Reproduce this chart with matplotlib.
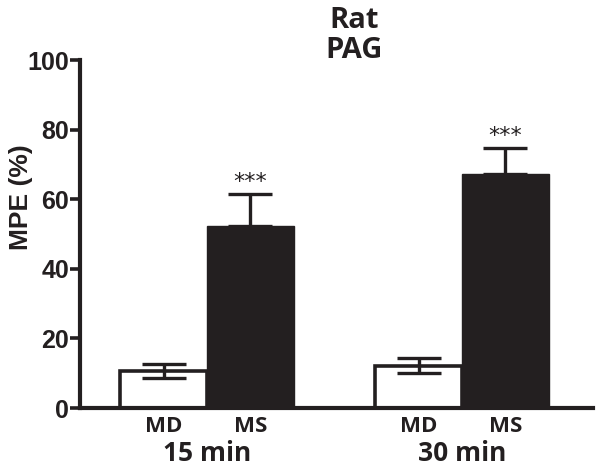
import matplotlib
matplotlib.use('Agg')
import numpy as np
from matplotlib import pyplot as plt
from matplotlib import transforms

# data
groups = ['15 min', '30 min']
md_mean = [10.6, 12.2]
md_sem = [2.0, 2.2]
ms_mean = [52.3, 67.2]
ms_sem = [9.2, 7.5]
stars = ['***', '***']
yticks = [0, 20, 40, 60, 80, 100]

ink = '#231f20'
plt.rcParams['font.family'] = ['Open Sans', 'DejaVu Sans']

fig = plt.figure(figsize=(6, 4.7), dpi=100)
ax = fig.add_axes([80 / 600, 1 - 408 / 470, 513 / 600, 348 / 470])

x = np.arange(len(groups))
w = 0.34

# white MD bars, black MS bars
ax.bar(x - w / 2, md_mean, w, color='white', edgecolor=ink, linewidth=2.6, zorder=2)
ax.bar(x + w / 2, ms_mean, w, color=ink, edgecolor=ink, linewidth=1, zorder=2)

ax.errorbar(x - w / 2, md_mean, yerr=md_sem, fmt='none', ecolor=ink,
            elinewidth=2.4, capsize=16, capthick=2.4, zorder=3)
ax.errorbar(x + w / 2, ms_mean, yerr=[np.zeros(len(ms_sem)), ms_sem], fmt='none',
            ecolor=ink, elinewidth=2.4, capsize=16, capthick=2.4, zorder=1)

for xi, m, s, st in zip(x, ms_mean, ms_sem, stars):
    ax.text(xi + w / 2, m + s + 0.6, st, ha='center', va='bottom',
            fontsize=16, family='DejaVu Sans', color=ink)

ax.set_xlim(-0.498, 1.514)
ax.set_ylim(0, 100)
ax.set_yticks(yticks)
ax.set_yticklabels([str(t) for t in yticks], family='Liberation Sans',
                   fontweight='bold', fontsize=18, color=ink)
ax.tick_params(axis='y', length=7, width=2.6, color=ink, pad=1)

centers = np.concatenate([x - w / 2, x + w / 2])
labels = ['MD'] * len(groups) + ['MS'] * len(groups)
ax.set_xticks(centers)
ax.set_xticklabels(labels, fontweight='bold', fontsize=16, color=ink)
ax.tick_params(axis='x', length=0, pad=6)

trans = transforms.blended_transform_factory(ax.transData, ax.transAxes)
for xi, g in zip(x, groups):
    ax.text(xi, -0.13, g, transform=trans, ha='center', va='center',
            fontweight='bold', fontsize=19, color=ink)

for side in ['top', 'right']:
    ax.spines[side].set_visible(False)
ax.spines['left'].set_linewidth(3)
ax.spines['bottom'].set_linewidth(3)
ax.spines['left'].set_color(ink)
ax.spines['bottom'].set_color(ink)
ax.spines['left'].set_capstyle('projecting')

ax.set_ylabel('MPE (%)', family='Liberation Sans', fontweight='bold',
              fontsize=19, color=ink)
ax.yaxis.set_label_coords(-0.092, 0.606)

fig.text(354 / 600, 1 - 21 / 470, 'Rat', ha='center', va='center',
         fontweight='bold', fontsize=21, color=ink)
fig.text(354 / 600, 1 - 50 / 470, 'PAG', ha='center', va='center',
         fontweight='bold', fontsize=21, color=ink)

fig.savefig('out.png', dpi=100)
